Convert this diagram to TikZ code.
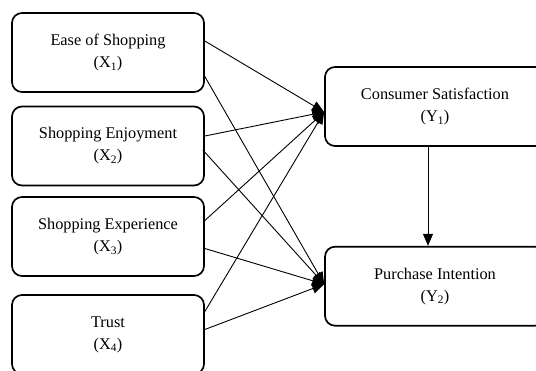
\documentclass[tikz,border=0pt]{standalone}
\usepackage{fontspec}
\setmainfont{Liberation Serif}
\usetikzlibrary{arrows.meta,positioning}

\begin{document}
\begin{tikzpicture}[x=1pt,y=-1pt,
    var/.style={rectangle,rounded corners=10pt,draw=black,line width=1.7pt,
      minimum width=192pt,minimum height=79pt,align=center,
      font=\fontsize{16.3}{22}\selectfont},
    dep/.style={var,minimum width=220pt,minimum height=79pt},
    path/.style={draw=black,line width=0.9pt,-{Triangle[length=12pt,width=10pt]}}]

  \useasboundingbox (0,0) rectangle (536,370);
  \clip (0,0) rectangle (536,370);

  \node (X1) [var] at (108,52.5)  {Ease of Shopping\\(X\textsubscript{1})};
  \node (X2) [var] at (108,146)   {Shopping Enjoyment\\(X\textsubscript{2})};
  \node (X3) [var] at (108,236.5) {Shopping Experience\\(X\textsubscript{3})};
  \node (X4) [var] at (108,334.5) {Trust\\(X\textsubscript{4})};

  \node (Y1) [dep] at (435,106.5)   {Consumer Satisfaction\\(Y\textsubscript{1})};
  \node (Y2) [dep,below=99pt of Y1] {Purchase Intention\\(Y\textsubscript{2})};

  % paths to Y1
  \draw[path] ([yshift=11.5pt]X1.east) -- ([yshift=-5.5pt]Y1.west);
  \draw[path] ([yshift=10pt]X2.east)   -- ([yshift=-5.5pt]Y1.west);
  \draw[path] ([yshift=16pt]X3.east)   -- ([yshift=-5.5pt]Y1.west);
  \draw[path] ([yshift=23pt]X4.east)   -- ([yshift=-5.5pt]Y1.west);
  % paths to Y2
  \draw[path] ([yshift=-24pt]X1.east)  -- ([yshift=2pt]Y2.west);
  \draw[path] ([xshift=-2pt,yshift=-4pt]X2.east) -- ([yshift=2pt]Y2.west);
  \draw[path] ([yshift=-12pt]X3.east)  -- ([yshift=2pt]Y2.west);
  \draw[path] ([yshift=5pt]X4.east)    -- ([yshift=2pt]Y2.west);

  \draw[path] ([xshift=-7pt]Y1.south) -- ([xshift=-7pt]Y2.north);

\end{tikzpicture}
\end{document}
